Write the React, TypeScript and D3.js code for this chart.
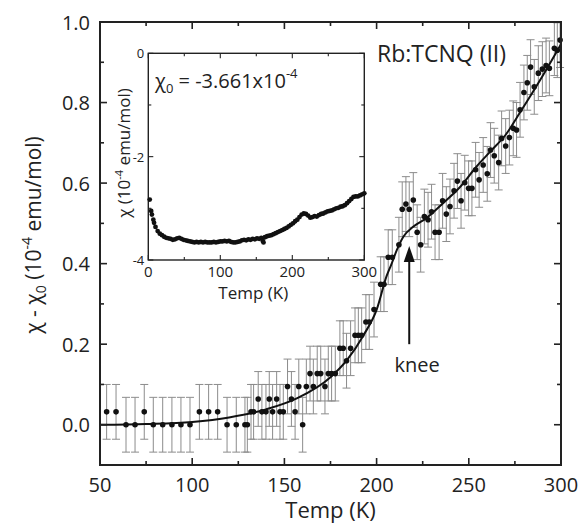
import React, { useEffect, useRef } from 'react';
import * as d3 from 'd3';

// main panel: chi - chi0 (1e-4 emu/mol) vs temperature
const mainTemp = [
  53.6, 58.7, 64.1, 69, 74, 78.9, 84, 89, 93.9, 98.8, 103.9, 108.9, 113.8, 118.9, 123.9, 128.6,
  129.9, 131.9, 133.3, 135.8, 137.8, 140, 141.8, 143.6, 145.8, 147.6, 149.4, 151.7, 153.8, 155.8,
  157.8, 159.9, 161.9, 163.9, 165.7, 167.8, 169.7, 172, 173.8, 175.6, 177.6, 180.1, 181.9, 183.7,
  185.9, 188.3, 190.1, 191.9, 194.2, 196, 198.6, 202.2, 204, 206.3, 208.5, 212.1, 213.9, 215.9,
  217.7, 219.9, 222, 223.9, 225.9, 227.9, 229.8, 231.7, 233.9, 235.8, 237.8, 239.8, 242, 243.8,
  245.8, 247.8, 249.9, 251.7, 253.7, 255.6, 257.8, 260, 261.8, 263.8, 266.2, 267.8, 270, 272,
  274.1, 275.9, 277.8, 279.9, 281.7, 283.5, 285.5, 287.7, 289.9, 291.9, 293.7, 296.4, 298, 299.5,
];
const mainChi = [
  0.032, 0.032, 0, 0, 0.032, 0, 0, 0, 0, 0, 0.032, 0.032, 0.032, 0, 0, 0,
  0, 0.032, 0.032, 0.064, 0.032, 0.032, 0.064, 0.032, 0.064, 0.032, 0.032, 0.095, 0.064, 0.032,
  0.095, 0, 0.095, 0.127, 0.095, 0.127, 0.127, 0.095, 0.127, 0.127, 0.127, 0.19, 0.19, 0.159,
  0.19, 0.222, 0.222, 0.222, 0.255, 0.255, 0.286, 0.349, 0.349, 0.416, 0.416, 0.447, 0.535, 0.548,
  0.535, 0.558, 0.478, 0.447, 0.517, 0.509, 0.529, 0.478, 0.478, 0.556, 0.523, 0.542, 0.581, 0.605,
  0.556, 0.601, 0.587, 0.587, 0.633, 0.608, 0.645, 0.623, 0.682, 0.668, 0.651, 0.711, 0.692, 0.713,
  0.736, 0.732, 0.782, 0.825, 0.849, 0.888, 0.839, 0.873, 0.883, 0.892, 0.885, 0.935, 0.93, 0.955,
];
const ERR = 0.068;

// fitted curve
const fitTemp = [50, 75, 100, 120, 140, 157, 175, 184, 193, 200, 205.5, 208, 211, 214.5, 220, 227, 236, 245, 254, 262, 270, 278, 290, 300];
const fitChi = [0, 0.002, 0.007, 0.018, 0.038, 0.066, 0.118, 0.161, 0.223, 0.285, 0.37, 0.398, 0.434, 0.467, 0.492, 0.513, 0.55, 0.589, 0.64, 0.68, 0.72, 0.777, 0.866, 0.945];

// inset: raw chi (1e-4 emu/mol)
const insetTemp = [
  2, 4, 5, 7, 8, 10, 13, 16, 19, 22, 25, 28, 31, 34, 37, 40, 43, 46, 49, 52, 55, 58, 61, 64, 67, 70,
  73, 76, 79, 82, 85, 88, 91, 94, 97, 100, 103, 106, 109, 112, 115, 118, 121, 124, 127, 130, 133,
  136, 139, 142, 145, 148, 151, 154, 157, 159, 160, 162, 165, 168, 171, 174, 177, 180, 183, 186,
  189, 192, 195, 198, 201, 204, 207, 210, 213, 216, 219, 222, 225, 228, 231, 234, 237, 240, 243,
  246, 249, 252, 255, 258, 261, 264, 267, 270, 273, 276, 279, 282, 285, 288, 291, 294, 297, 300,
];
const insetChi = [
  -2.83, -3.05, -3.12, -3.22, -3.28, -3.36, -3.44, -3.49, -3.52, -3.55, -3.57, -3.58, -3.59, -3.61,
  -3.6, -3.58, -3.57, -3.59, -3.61, -3.62, -3.63, -3.64, -3.65, -3.66, -3.65, -3.66, -3.65, -3.66,
  -3.65, -3.66, -3.66, -3.66, -3.65, -3.66, -3.65, -3.64, -3.64, -3.63, -3.64, -3.63, -3.65, -3.66,
  -3.66, -3.65, -3.64, -3.62, -3.61, -3.62, -3.6, -3.61, -3.59, -3.6, -3.58, -3.59, -3.57, -3.63,
  -3.66, -3.56, -3.54, -3.53, -3.52, -3.5, -3.48, -3.46, -3.44, -3.42, -3.4, -3.38, -3.35, -3.32,
  -3.29, -3.25, -3.22, -3.17, -3.12, -3.1, -3.11, -3.14, -3.18, -3.17, -3.15, -3.16, -3.13, -3.11,
  -3.1, -3.08, -3.06, -3.05, -3.04, -3.02, -3.0, -2.99, -2.97, -2.96, -2.94, -2.9, -2.86, -2.82,
  -2.78, -2.77, -2.77, -2.75, -2.73, -2.71,
];

const mainXMajor = [50, 100, 150, 200, 250, 300];
const mainXMinor = [75, 125, 175, 225, 275];
const mainYMajor = [0, 0.2, 0.4, 0.6, 0.8, 1.0];
const mainYMinor = [-0.1, 0.1, 0.3, 0.5, 0.7, 0.9];
const insetXMajor = [0, 100, 200, 300];
const insetXMinor = [50, 150, 250];
const insetYMajor = [0, -2, -4];
const insetYMinor = [-1, -3];

const FONT = '"Open Sans", "DejaVu Sans", sans-serif';
const INK = '#222';

export default function App() {
  const ref = useRef<SVGSVGElement | null>(null);

  useEffect(() => {
    const width = 580;
    const height = 525;
    const m = { left: 100, right: 561, top: 22, bottom: 465 };

    const svg = d3.select(ref.current);
    svg.selectAll('*').remove();
    svg.attr('width', width).attr('height', height);

    const x = d3.scaleLinear().domain([50, 300]).range([m.left, m.right]);
    const y = d3.scaleLinear().domain([-0.1, 1.0]).range([m.bottom, m.top]);

    const g = svg.append('g');

    // error bars
    const eb = g.append('g').attr('stroke', '#8c8c8c').attr('stroke-width', 1).attr('fill', 'none');
    mainTemp.forEach((t, i) => {
      const cx = x(t);
      const top = Math.max(y(mainChi[i] + ERR), m.top);
      const bot = y(mainChi[i] - ERR);
      eb.append('line').attr('x1', cx).attr('x2', cx).attr('y1', top).attr('y2', bot);
      eb.append('line').attr('x1', cx - 4).attr('x2', cx + 4).attr('y1', bot).attr('y2', bot);
      if (y(mainChi[i] + ERR) >= m.top) {
        eb.append('line').attr('x1', cx - 4).attr('x2', cx + 4).attr('y1', top).attr('y2', top);
      }
    });

    // fit line
    const fit = fitTemp.map((t, i) => [t, fitChi[i]] as [number, number]);
    g.append('path')
      .datum(fit)
      .attr('fill', 'none')
      .attr('stroke', '#111')
      .attr('stroke-width', 2)
      .attr('d', d3.line<[number, number]>().x((d) => x(d[0])).y((d) => y(d[1])).curve(d3.curveMonotoneX));

    // points
    g.append('g')
      .selectAll('circle')
      .data(mainTemp)
      .join('circle')
      .attr('cx', (d) => x(d))
      .attr('cy', (d, i) => y(mainChi[i]))
      .attr('r', 2.8)
      .attr('fill', '#111');

    // frame + ticks
    g.append('rect')
      .attr('x', m.left).attr('y', m.top)
      .attr('width', m.right - m.left).attr('height', m.bottom - m.top)
      .attr('fill', 'none').attr('stroke', '#222').attr('stroke-width', 2);

    const ticks = g.append('g').attr('stroke', '#222').attr('stroke-width', 1.6);
    const xt = (vals: number[], len: number) => vals.forEach((v) => {
      ticks.append('line').attr('x1', x(v)).attr('x2', x(v)).attr('y1', m.bottom).attr('y2', m.bottom - len);
      ticks.append('line').attr('x1', x(v)).attr('x2', x(v)).attr('y1', m.top).attr('y2', m.top + len);
    });
    const yt = (vals: number[], len: number) => vals.forEach((v) => {
      ticks.append('line').attr('y1', y(v)).attr('y2', y(v)).attr('x1', m.left).attr('x2', m.left + len);
      ticks.append('line').attr('y1', y(v)).attr('y2', y(v)).attr('x1', m.right).attr('x2', m.right - len);
    });
    xt(mainXMajor, 7);
    xt(mainXMinor, 4);
    yt(mainYMajor, 7);
    yt(mainYMinor, 4);

    g.append('g').selectAll('text').data(mainXMajor).join('text')
      .attr('x', (d) => x(d)).attr('y', m.bottom + 27)
      .attr('text-anchor', 'middle')
      .attr('font-family', FONT).attr('font-size', 20).attr('fill', INK)
      .text((d) => d);

    g.append('g').selectAll('text').data(mainYMajor).join('text')
      .attr('x', m.left - 10).attr('y', (d) => y(d))
      .attr('text-anchor', 'end').attr('dominant-baseline', 'central')
      .attr('font-family', FONT).attr('font-size', 20).attr('fill', INK)
      .text((d) => d3.format('.1f')(d));

    g.append('text')
      .attr('x', (m.left + m.right) / 2).attr('y', 518)
      .attr('text-anchor', 'middle')
      .attr('font-family', FONT).attr('font-size', 22).attr('fill', INK)
      .text('Temp (K)');

    const yl = g.append('text')
      .attr('transform', 'rotate(-90)')
      .attr('x', -235).attr('y', 41)
      .attr('text-anchor', 'middle')
      .attr('font-family', FONT).attr('font-size', 21).attr('fill', INK);
    yl.append('tspan').text('χ - χ');
    yl.append('tspan').attr('font-size', 14).attr('dy', 5).text('0');
    yl.append('tspan').attr('dy', -5).text(' (10');
    yl.append('tspan').attr('font-size', 14).attr('dy', -9).text('-4');
    yl.append('tspan').attr('dy', 9).text(' emu/mol)');

    g.append('text')
      .attr('x', 377).attr('y', 62)
      .attr('font-family', FONT).attr('font-size', 23).attr('fill', INK)
      .text('Rb:TCNQ (II)');

    // knee arrow
    const ax = x(217.7);
    g.append('line')
      .attr('x1', ax).attr('x2', ax).attr('y1', y(0.2)).attr('y2', y(0.41))
      .attr('stroke', '#111').attr('stroke-width', 2);
    g.append('path')
      .attr('d', `M${ax},${y(0.444)} L${ax - 5.5},${y(0.404)} L${ax + 5.5},${y(0.404)} Z`)
      .attr('fill', '#111');
    g.append('text')
      .attr('x', x(222)).attr('y', y(0.13))
      .attr('text-anchor', 'middle')
      .attr('font-family', FONT).attr('font-size', 20).attr('fill', INK)
      .text('knee');

    // inset
    const ins = { left: 148.3, right: 364.3, top: 53.3, bottom: 260 };
    const ix = d3.scaleLinear().domain([0, 300]).range([ins.left, ins.right]);
    const iy = d3.scaleLinear().domain([-4, 0]).range([ins.bottom, ins.top]);
    const ig = svg.append('g');

    ig.append('rect')
      .attr('x', ins.left).attr('y', ins.top)
      .attr('width', ins.right - ins.left).attr('height', ins.bottom - ins.top)
      .attr('fill', '#fff').attr('stroke', '#222').attr('stroke-width', 1.4);

    ig.append('g').selectAll('circle').data(insetTemp).join('circle')
      .attr('cx', (d) => ix(d)).attr('cy', (d, i) => iy(insetChi[i]))
      .attr('r', 2.4).attr('fill', '#111');

    const it = ig.append('g').attr('stroke', '#222').attr('stroke-width', 1.1);
    const ixt = (vals: number[], len: number) => vals.forEach((v) => {
      it.append('line').attr('x1', ix(v)).attr('x2', ix(v)).attr('y1', ins.bottom).attr('y2', ins.bottom - len);
      it.append('line').attr('x1', ix(v)).attr('x2', ix(v)).attr('y1', ins.top).attr('y2', ins.top + len);
    });
    const iyt = (vals: number[], len: number) => vals.forEach((v) => {
      it.append('line').attr('y1', iy(v)).attr('y2', iy(v)).attr('x1', ins.left).attr('x2', ins.left + len);
      it.append('line').attr('y1', iy(v)).attr('y2', iy(v)).attr('x1', ins.right).attr('x2', ins.right - len);
    });
    ixt(insetXMajor, 5);
    ixt(insetXMinor, 3);
    iyt(insetYMajor, 5);
    iyt(insetYMinor, 3);

    ig.append('g').selectAll('text').data(insetXMajor).join('text')
      .attr('x', (d) => ix(d)).attr('y', ins.bottom + 17)
      .attr('text-anchor', 'middle')
      .attr('font-family', FONT).attr('font-size', 15).attr('fill', INK)
      .text((d) => d);

    ig.append('g').selectAll('text').data(insetYMajor).join('text')
      .attr('x', ins.left - 4).attr('y', (d) => iy(d))
      .attr('text-anchor', 'end').attr('dominant-baseline', 'central')
      .attr('font-family', FONT).attr('font-size', 13).attr('fill', INK)
      .text((d) => d);

    ig.append('text')
      .attr('x', (ins.left + ins.right) / 2 - 3).attr('y', 299)
      .attr('text-anchor', 'middle')
      .attr('font-family', FONT).attr('font-size', 17).attr('fill', INK)
      .text('Temp (K)');

    const iyl = ig.append('text')
      .attr('transform', 'rotate(-90)')
      .attr('x', -153).attr('y', 130)
      .attr('text-anchor', 'middle')
      .attr('font-family', FONT).attr('font-size', 17).attr('fill', INK);
    iyl.append('tspan').text('χ (10');
    iyl.append('tspan').attr('font-size', 11).attr('dy', -7).text('-4');
    iyl.append('tspan').attr('dy', 7).text(' emu/mol)');

    const c0 = ig.append('text')
      .attr('x', 155).attr('y', 88)
      .attr('font-family', FONT).attr('font-size', 20).attr('fill', INK);
    c0.append('tspan').text('χ');
    c0.append('tspan').attr('font-size', 13).attr('dy', 5).text('0');
    c0.append('tspan').attr('dy', -5).text(' = -3.661x10');
    c0.append('tspan').attr('font-size', 13).attr('dy', -10).text('-4');
  }, []);

  return (
    <div>
      <svg ref={ref} style={{ position: 'absolute', left: 0, top: 0, background: '#fff' }} />
    </div>
  );
}
